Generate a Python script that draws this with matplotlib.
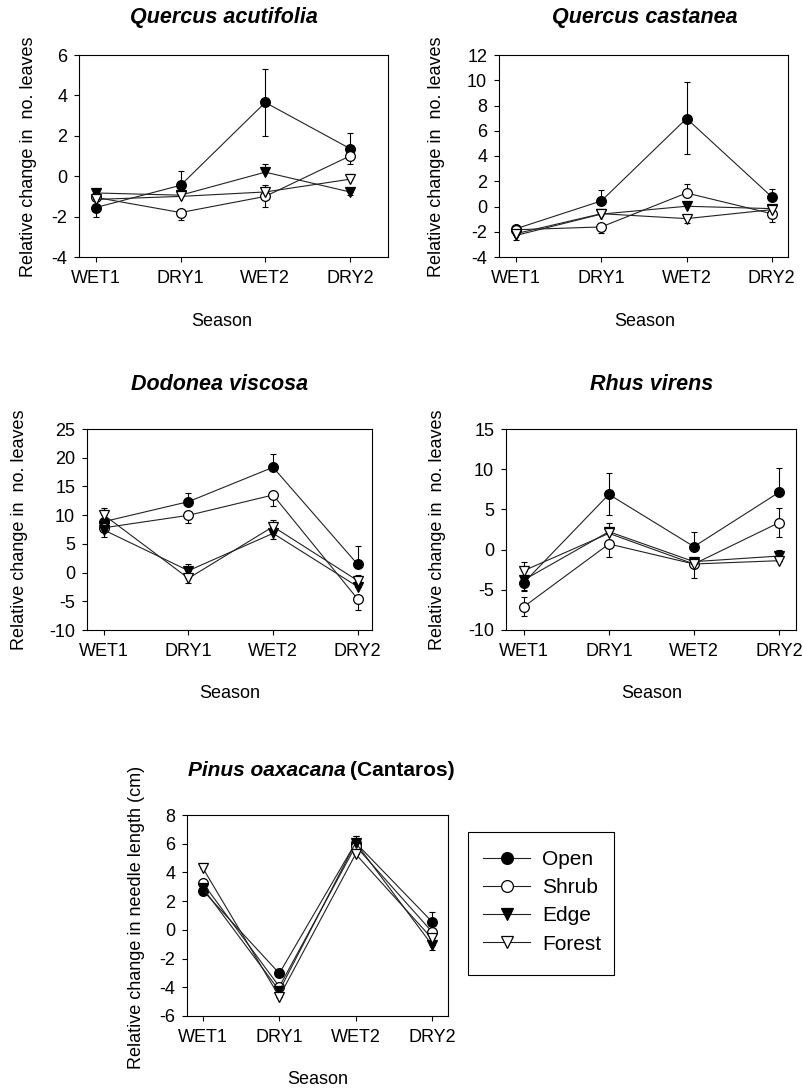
import numpy as np
import matplotlib.pyplot as plt
from matplotlib.lines import Line2D
from matplotlib.patches import Rectangle

plt.rcParams['font.family'] = ['Liberation Sans', 'DejaVu Sans']

seasons = ["WET1", "DRY1", "WET2", "DRY2"]
treatments = ["Open", "Shrub", "Edge", "Forest"]

# rows = Open, Shrub, Edge, Forest ; columns = seasons
# Quercus acutifolia
qa_mean = [[-1.55, -0.45, 3.65, 1.37],
           [-1.05, -1.80, -1.00, 1.00],
           [-0.83, -0.94, 0.20, -0.78],
           [-1.15, -1.00, -0.78, -0.15]]
qa_up = [[0, 0.70, 1.68, 0.78], [0, 0, 0, 0], [0, 0, 0.40, 0], [0, 0, 0.33, 0.28]]
qa_dn = [[0.47, 0, 1.67, 0], [0, 0.35, 0.52, 0.42], [0.10, 0, 0, 0.17], [0, 0, 0, 0]]

# Quercus castanea
qc_mean = [[-1.76, 0.44, 6.97, 0.76],
           [-1.84, -1.62, 1.07, -0.57],
           [-2.29, -0.60, 0.02, -0.17],
           [-2.15, -0.57, -0.96, -0.25]]
qc_up = [[0, 0.85, 2.90, 0.66], [0.30, 0, 0.74, 0], [0, 0, 0, 0], [0, 0, 0, 0]]
qc_dn = [[0.30, 0, 2.85, 0], [0, 0.50, 0, 0.66], [0.40, 0, 0, 0], [0, 0, 0.35, 0]]

# Dodonea viscosa
dv_mean = [[8.87, 12.35, 18.33, 1.44],
           [7.80, 9.97, 13.51, -4.60],
           [7.41, 0.33, 6.83, -2.45],
           [10.03, -1.00, 8.00, -1.40]]
dv_up = [[0, 1.45, 2.27, 3.25], [0, 0, 0, 0], [0, 1.17, 0, 0], [1.16, 0, 1.15, 0.98]]
dv_dn = [[0, 0, 0, 0], [0, 1.40, 1.86, 1.90], [1.16, 0, 0.90, 0], [0, 0.87, 0, 0]]

# Rhus virens
rv_mean = [[-4.11, 6.87, 0.37, 7.12],
           [-7.10, 0.70, -1.79, 3.35],
           [-3.78, 2.23, -1.50, -0.80],
           [-2.62, 2.02, -1.79, -1.38]]
rv_up = [[0, 2.60, 1.86, 3.00], [1.20, 0, 0, 1.78], [0, 1.10, 0, 0.75], [1.10, 0, 0, 0]]
rv_dn = [[1.10, 2.57, 0, 0], [1.20, 1.66, 1.78, 1.78], [1.20, 0, 0, 0], [0, 0, 0, 0]]

# Pinus oaxacana (Cantaros)
po_mean = [[2.73, -3.03, 6.07, 0.57],
           [3.24, -3.96, 5.84, -0.13],
           [2.90, -4.24, 6.07, -1.05],
           [4.28, -4.65, 5.28, -0.60]]
po_up = [[0, 0, 0.47, 0.70], [0, 0, 0, 0], [0, 0, 0.50, 0], [0.35, 0, 0, 0]]
po_dn = [[0, 0, 0, 0], [0, 0, 0, 0], [0, 0, 0, 0.35], [0, 0, 0, 0]]

W, H = 804, 1088
markers = ["o", "o", "v", "v"]
faces = ["black", "white", "black", "white"]
msizes = [7, 7, 7.5, 7.5]


def px_axes(fig, left, top, right, bottom):
    return fig.add_axes([left / W, 1 - bottom / H, (right - left) / W, (bottom - top) / H])


def draw_panel(ax, mean, up, dn, yticks, xlim):
    x = np.arange(len(seasons))
    for i in range(len(treatments)):
        m = np.array(mean[i])
        ax.errorbar(x, m, yerr=[dn[i], up[i]], fmt="none", ecolor="black",
                    elinewidth=0.8, capsize=2, capthick=0.8, zorder=2 + i)
        ax.plot(x, m, color="#222222", lw=0.8, marker=markers[i], ms=msizes[i],
                mfc=faces[i], mec="black", mew=0.9, zorder=2.5 + i,
                label=treatments[i])
    ax.set_xticks(x)
    ax.set_xticklabels(seasons)
    ax.set_yticks(yticks)
    ax.set_yticklabels([str(t) for t in yticks])
    ax.set_ylim(yticks[0], yticks[-1])
    ax.set_xlim(*xlim)
    ax.tick_params(direction="out", length=3.5, width=0.8, labelsize=13, pad=5)
    ax.tick_params(axis="x", pad=6)
    for s in ax.spines.values():
        s.set_linewidth(0.8)


fig = plt.figure(figsize=(W / 100, H / 100), dpi=100)

panels = [
    # mean, up, dn, yticks, xlim, axes box (l, t, r, b), title pos, season pos, ylabel pos
    (qa_mean, qa_up, qa_dn, list(range(-4, 7, 2)), (-0.2, 3.45), (79, 55, 388, 257),
     (224, 18), (222, 321), (29, 157), "Quercus acutifolia", "Relative change in  no. leaves"),
    (qc_mean, qc_up, qc_dn, list(range(-4, 13, 2)), (-0.2, 3.19), (499, 55, 788, 257),
     (645, 18), (645, 321), (437, 157), "Quercus castanea", "Relative change in  no. leaves"),
    (dv_mean, dv_up, dv_dn, list(range(-10, 26, 5)), (-0.2, 3.17), (87, 429, 372, 630),
     (220, 385), (230, 693), (20, 530), "Dodonea viscosa", "Relative change in  no. leaves"),
    (rv_mean, rv_up, rv_dn, list(range(-10, 16, 5)), (-0.21, 3.2), (506, 429, 796, 630),
     (652, 385), (652, 693), (438, 530), "Rhus virens", "Relative change in  no. leaves"),
    (po_mean, po_up, po_dn, list(range(-6, 9, 2)), (-0.21, 3.21), (187, 815, 448, 1016),
     None, (318, 1080), (137, 917), None, "Relative change in needle length (cm)"),
]

for mean, up, dn, yt, xl, box, tpos, spos, ypos, title, ylab in panels:
    ax = px_axes(fig, *box)
    draw_panel(ax, mean, up, dn, yt, xl)
    if title:
        fig.text(tpos[0] / W, 1 - tpos[1] / H, title, ha="center", va="center",
                 fontsize=15.5, fontweight="bold", style="italic")
    fig.text(spos[0] / W, 1 - spos[1] / H, "Season", ha="center", va="center", fontsize=13)
    fig.text(ypos[0] / W, 1 - ypos[1] / H, ylab, ha="center", va="center",
             rotation=90, fontsize=13)

# Pinus title: italic species name followed by plain bold site name
t1 = fig.text(188 / W, 1 - 770 / H, "Pinus oaxacana", ha="left", va="center",
              fontsize=15, fontweight="bold", style="italic")
renderer = fig.canvas.get_renderer()
bb = t1.get_window_extent(renderer)
fig.text(bb.x1 / W + 4 / W, 1 - 770 / H, "(Cantaros)", ha="left", va="center",
         fontsize=15, fontweight="bold")

# legend: entries without frame, box drawn separately
handles = [Line2D([0], [0], color="#222222", lw=0.8, marker=markers[i], ms=msizes[i] + 1.5,
                  mfc=faces[i], mec="black", mew=0.9) for i in range(4)]
leg = fig.legend(handles, treatments, loc="upper left",
                 bbox_to_anchor=(483 / W, 1 - 850 / H), fontsize=15,
                 frameon=False, handlelength=2.26, handletextpad=0.58,
                 borderpad=0, labelspacing=0.44, borderaxespad=0)
fig.patches.append(Rectangle((468 / W, 1 - 975 / H), 146 / W, 143 / H,
                             transform=fig.transFigure, fill=False,
                             edgecolor="black", linewidth=0.8))

plt.savefig("out.png", dpi=100)
plt.close(fig)
